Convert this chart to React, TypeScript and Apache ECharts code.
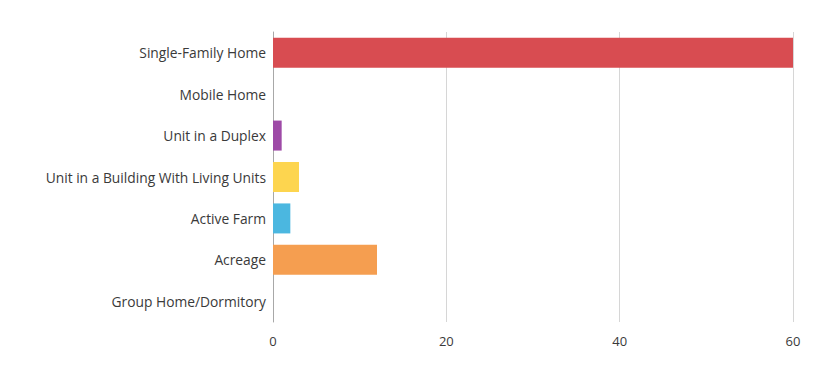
import React, { useEffect, useRef } from "react";
import * as echarts from "echarts";

const categories = [
  "Single-Family Home",
  "Mobile Home",
  "Unit in a Duplex",
  "Unit in a Building With Living Units",
  "Active Farm",
  "Acreage",
  "Group Home/Dormitory",
];
const values = [60, 0, 1, 3, 2, 12, 0];
const colors = ["#d84c51", "#888888", "#9e4aa7", "#fdd54f", "#4bb7e0", "#f59e50", "#888888"];
const xTicks = [0, 20, 40, 60];

export default function App() {
  const ref = useRef<HTMLDivElement>(null);
  useEffect(() => {
    if (!ref.current) return;
    const chart = echarts.init(ref.current, undefined, { renderer: "svg" });
    chart.setOption({
      animation: false,
      backgroundColor: "#ffffff",
      grid: { left: 273, right: 29, top: 32, bottom: 49, outerBoundsMode: "none", containLabel: false },
      xAxis: {
        type: "value",
        min: xTicks[0],
        max: xTicks[xTicks.length - 1],
        interval: 20,
        axisLine: { show: false },
        axisTick: { show: false },
        axisLabel: { color: "#3a3a3a", fontFamily: "Open Sans", fontSize: 13, margin: 12 },
        splitLine: { show: true, lineStyle: { color: "#d6d6d6", width: 1 } },
      },
      yAxis: {
        type: "category",
        inverse: true,
        data: categories,
        axisLine: { show: true, lineStyle: { color: "#a8a8a8", width: 1 } },
        axisTick: { show: false },
        axisLabel: { color: "#3a3a3a", fontFamily: "Open Sans", fontSize: 13.8, margin: 7 },
        splitLine: { show: false },
      },
      series: [
        {
          type: "bar",
          data: values.map((v, i) => ({ value: v, itemStyle: { color: colors[i] } })),
          barWidth: 30,
        },
      ],
    });
    return () => chart.dispose();
  }, []);
  return (
    <div
      ref={ref}
      style={{ position: "fixed", left: 0, top: 0, width: 822, height: 371 }}
    />
  );
}
